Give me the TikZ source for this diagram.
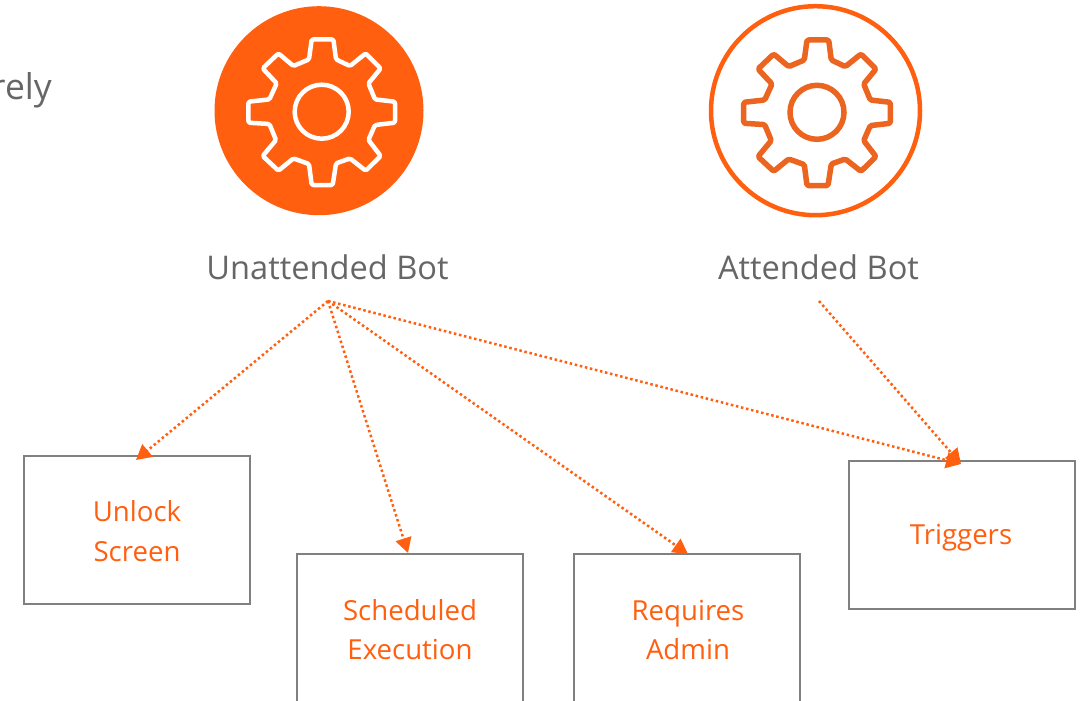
\documentclass[tikz,border=0pt]{standalone}
\usepackage{fontspec}
\setmainfont{Open Sans}
\usetikzlibrary{arrows.meta}
\definecolor{botorange}{HTML}{FF5F0F}
\definecolor{gearorange}{HTML}{EB6420}
\definecolor{labelgray}{HTML}{666666}
\definecolor{boxgray}{HTML}{808080}
\newcommand{\gearpath}{(-10,-72.3) -- (11.7,-72.3) -- (14.3,-52.3) -- (28.3,-45.7) -- (44,-58.3) -- (59,-43.3) -- (46.7,-28.3) -- (53.3,-12.3) -- (73.3,-10) -- (73.3,11) -- (53.3,13.3) -- (46.7,28.3) -- (59,44.3) -- (44,59) -- (28.3,46.7) -- (14.3,51.7) -- (11,73.3) -- (-10,73.3) -- (-12.7,52.3) -- (-28.3,46.7) -- (-43.3,59) -- (-59,44.3) -- (-45.7,28.3) -- (-52.3,12.3) -- (-73.3,11) -- (-73.3,-10) -- (-52.3,-12.3) -- (-45,-28.3) -- (-59,-43.3) -- (-43.3,-58.3) -- (-28.3,-45.7) -- (-12.7,-52.3) -- cycle}
\tikzset{
  x=1pt,y=-1pt,
  botlabel/.style={font=\fontsize{32.6}{38}\selectfont,text=labelgray,inner sep=0pt,anchor=center},
  taskbox/.style={draw=boxgray,line width=2.2pt,fill=white,minimum width=226pt,anchor=north west,inner sep=0pt,align=center,text=botorange,font=\fontsize{27.6}{39.5}\selectfont},
  tasktext/.style={text=botorange,font=\fontsize{27.6}{39.5}\selectfont,align=center,inner sep=0pt},
  dotlink/.style={draw=botorange,line width=2.5pt,dash pattern=on 2.5pt off 2.7pt,-{Triangle[length=15pt,width=16pt,fill=botorange]}},
  gearline/.style={line width=4.5pt,line join=round,rounded corners=1.5pt},
}
\begin{document}
\begin{tikzpicture}
\useasboundingbox (0,0) rectangle (1084,701);
\clip (0,0) rectangle (1084,701);
\node[font=\fontsize{35.5}{44}\selectfont,text=labelgray,anchor=east,inner sep=0pt] (cut) at (52,90) {rely};
\node[circle,fill=botorange,minimum size=209pt,inner sep=0pt] (unattendedicon) at (319,110.7) {};
\draw[white,gearline,shift={(321.7,111.7)}] \gearpath;
\draw[white,line width=4.5pt] (321.7,111.7) circle (27pt);
\node[circle,draw=botorange,line width=4.5pt,fill=white,minimum size=209pt,inner sep=0pt] (attendedicon) at (815.5,110.7) {};
\draw[gearorange,gearline,line width=5.5pt,shift={(817,112.3)}] \gearpath;
\draw[gearorange,line width=5.5pt] (817,112.3) circle (27pt);
\node[botlabel] (unattended) at (327.5,267.5) {Unattended Bot};
\node[botlabel] (attended) at (818.5,267.5) {Attended Bot};
\coordinate (ua) at (328,301);
\coordinate (aa) at (819,301);
\node[taskbox,minimum height=148pt] (unlock) at (22.5,454.5) {};
\node[tasktext] (unlockt) at (137,531) {Unlock\\Screen};
\node[taskbox,minimum height=167pt] (sched) at (295.5,552.5) {};
\node[tasktext] (schedt) at (410,629.5) {Scheduled\\Execution};
\node[taskbox,minimum height=167pt] (admin) at (573,552.5) {};
\node[tasktext] (admint) at (688,630) {Requires\\Admin};
\node[taskbox,minimum height=148pt] (trig) at (847.5,459.5) {};
\node[tasktext] (trigt) at (961,538) {Triggers};
\coordinate (t1) at (136,460);
\coordinate (t2) at (408,553);
\coordinate (t3) at (688,554);
\coordinate (t4) at (961,464);
\draw[dotlink] (ua) -- (t1);
\draw[dotlink] (ua) -- (t2);
\draw[dotlink] (ua) -- (t3);
\draw[dotlink] (ua) -- (t4);
\draw[dotlink] (aa) -- (t4);
\end{tikzpicture}
\end{document}
